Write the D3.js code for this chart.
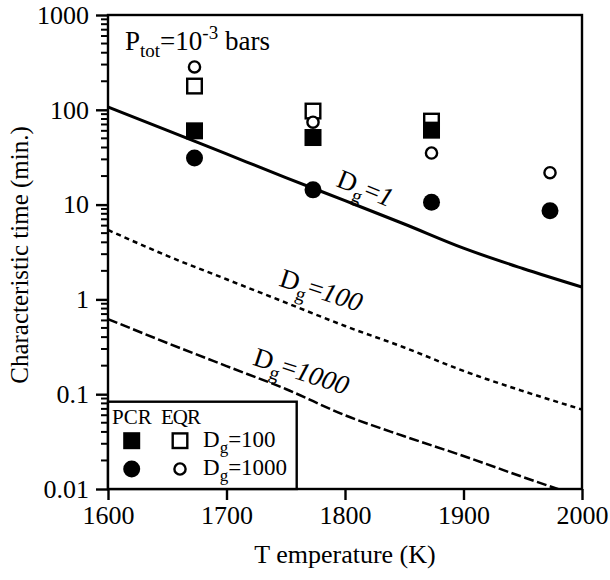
<!DOCTYPE html>
<html>
<head>
<meta charset="utf-8">
<script src="https://cdn.jsdelivr.net/npm/d3@7"></script>
<style>
  html, body { margin: 0; padding: 0; background: #fff; }
  svg { display: block; }
  svg text { font-family: "Liberation Serif", Tinos, "Times New Roman", Times, "Nimbus Roman", "DejaVu Serif", serif !important; fill: #000; }
</style>
</head>
<body>
<svg id="chart" width="610" height="580"></svg>
<script>
// Model curves: characteristic time (min.) vs temperature for three Dg values
const curveTemps = [1600, 1650, 1700, 1750, 1800, 1850, 1900, 1950, 2000];
const curveDg1    = [107, 60.6, 34.2, 19.3, 11.0, 6.24, 3.47, 2.12, 1.35];
const curveDg100  = [5.40, 2.88, 1.63, 0.925, 0.524, 0.311, 0.176, 0.108, 0.069];
const curveDg1000 = [0.62, 0.347, 0.198, 0.1135, 0.060, 0.036, 0.0223, 0.0134, 0.0082];

// Measured points (PCR = filled, EQR = open)
const pointTemps = [1673, 1773, 1873, 1973];
const pcrDg100  = [60, 51, 61, null];
const eqrDg100  = [178, 97, 76, null];
const pcrDg1000 = [31, 14.3, 10.6, 8.6];
const eqrDg1000 = [283, 74, 35, 21.7];

const xTicks = [1600, 1700, 1800, 1900, 2000];
const yTicks = [0.01, 0.1, 1, 10, 100, 1000];
const yTickLabels = ["0.01", "0.1", "1", "10", "100", "1000"];

const svg = d3.select("#chart");
const plotL = 108, plotR = 582, plotT = 15, plotB = 489;

const x = d3.scaleLinear().domain([1600, 2000]).range([plotL, plotR]);
const y = d3.scaleLog().domain([0.01, 1000]).range([plotB, plotT]);

// clip for curves
svg.append("clipPath").attr("id", "plotClip")
  .append("rect").attr("x", plotL).attr("y", plotT)
  .attr("width", plotR - plotL).attr("height", plotB - plotT);

// minor log ticks
const minorTicks = [];
for (let e = -2; e < 3; e++) {
  for (let m = 2; m <= 9; m++) minorTicks.push(m * Math.pow(10, e));
}

// y axis (left) with outward ticks
const yAxis = d3.axisLeft(y).tickValues(yTicks)
  .tickFormat((d, i) => yTickLabels[i]).tickSize(12).tickPadding(7);
const gy = svg.append("g").attr("transform", `translate(${plotL},0)`).call(yAxis);
gy.attr("font-family", null).attr("font-size", null);
gy.select(".domain").remove();
gy.selectAll(".tick line").attr("stroke", "#000").attr("stroke-width", 2.4);
gy.selectAll(".tick text").style("font-size", "26px").attr("fill", "#000");

svg.append("g").selectAll("line").data(minorTicks).join("line")
  .attr("x1", plotL - 7).attr("x2", plotL)
  .attr("y1", d => y(d)).attr("y2", d => y(d))
  .attr("stroke", "#000").attr("stroke-width", 2);

// x axis (bottom)
const xAxis = d3.axisBottom(x).tickValues(xTicks).tickFormat(d3.format("d"))
  .tickSize(11).tickPadding(6);
const gx = svg.append("g").attr("transform", `translate(0,${plotB})`).call(xAxis);
gx.attr("font-family", null).attr("font-size", null);
gx.select(".domain").remove();
gx.selectAll(".tick line").attr("stroke", "#000").attr("stroke-width", 2.4);
gx.selectAll(".tick text").style("font-size", "26px").attr("fill", "#000");

// frame
svg.append("rect").attr("x", plotL).attr("y", plotT)
  .attr("width", plotR - plotL).attr("height", plotB - plotT)
  .attr("fill", "none").attr("stroke", "#000").attr("stroke-width", 2.4);

// axis titles
svg.append("text").attr("x", (plotL + plotR) / 2).attr("y", 563)
  .attr("text-anchor", "middle").style("font-size", "26px")
  .text("T emperature (K)");
svg.append("text")
  .attr("transform", "translate(28,255) rotate(-90)")
  .attr("text-anchor", "middle").style("font-size", "25px")
  .text("Characteristic time (min.)");

// curves
const line = d3.line()
  .x((d, i) => x(curveTemps[i]))
  .y(d => y(d))
  .curve(d3.curveMonotoneX);
const curves = svg.append("g").attr("clip-path", "url(#plotClip)");
curves.append("path").datum(curveDg1).attr("d", line)
  .attr("fill", "none").attr("stroke", "#000").attr("stroke-width", 3);
curves.append("path").datum(curveDg100).attr("d", line)
  .attr("fill", "none").attr("stroke", "#000").attr("stroke-width", 2.5)
  .attr("stroke-dasharray", "5,4");
curves.append("path").datum(curveDg1000).attr("d", line)
  .attr("fill", "none").attr("stroke", "#000").attr("stroke-width", 2.5)
  .attr("stroke-dasharray", "10,3.5");

// curve labels
function dgLabel(cx, cy, angle, num, size) {
  const t = svg.append("text")
    .attr("transform", `translate(${cx},${cy}) rotate(${angle})`)
    .attr("text-anchor", "middle").attr("dy", "0.3em")
    .style("font-size", size + "px");
  t.append("tspan").text("D");
  t.append("tspan").attr("dy", size * 0.28).style("font-size", (size * 0.72) + "px").text("g");
  t.append("tspan").attr("dy", -size * 0.28).text("=");
  t.append("tspan").style("font-style", "italic").text(num);
}
dgLabel(365, 189, 22, "1", 27);
dgLabel(321, 291, 18, "100", 27);
dgLabel(301, 372, 18, "1000", 27);

// markers
const pts = svg.append("g");
const sq = 17, osq = 14.6;
function rows(vals) {
  return vals.map((v, i) => ({ t: pointTemps[i], v })).filter(d => d.v != null);
}
pts.selectAll(".eqrsq").data(rows(eqrDg100)).join("rect")
  .attr("x", d => x(d.t) - osq / 2).attr("y", d => y(d.v) - osq / 2)
  .attr("width", osq).attr("height", osq)
  .attr("fill", "#fff").attr("stroke", "#000").attr("stroke-width", 2.4);
pts.selectAll(".eqrci").data(rows(eqrDg1000)).join("circle")
  .attr("cx", d => x(d.t)).attr("cy", d => y(d.v)).attr("r", 5.6)
  .attr("fill", "#fff").attr("stroke", "#000").attr("stroke-width", 2.4);
pts.selectAll(".pcrsq").data(rows(pcrDg100)).join("rect")
  .attr("x", d => x(d.t) - sq / 2).attr("y", d => y(d.v) - sq / 2)
  .attr("width", sq).attr("height", sq).attr("fill", "#000");
pts.selectAll(".pcrci").data(rows(pcrDg1000)).join("circle")
  .attr("cx", d => x(d.t)).attr("cy", d => y(d.v)).attr("r", 8.5)
  .attr("fill", "#000");

// pressure annotation
const p = svg.append("text").attr("x", 125).attr("y", 50).style("font-size", "27px");
p.append("tspan").text("P");
p.append("tspan").attr("dy", 7).style("font-size", "19px").text("tot");
p.append("tspan").attr("dy", -7).text("=10");
p.append("tspan").attr("dy", -11).style("font-size", "19px").text("-3");
p.append("tspan").attr("dy", 11).text(" bars");

// legend
const lg = svg.append("g");
lg.append("rect").attr("x", plotL).attr("y", 401.7)
  .attr("width", 188.7).attr("height", plotB - 401.7)
  .attr("fill", "#fff").attr("stroke", "#000").attr("stroke-width", 2.4);
lg.append("text").attr("x", 112).attr("y", 424).style("font-size", "21px").text("PCR");
lg.append("text").attr("x", 161).attr("y", 424).style("font-size", "21px")
  .style("letter-spacing", "-1px").text("EQR");
lg.append("rect").attr("x", 131.7 - sq / 2).attr("y", 440.7 - sq / 2)
  .attr("width", sq).attr("height", sq).attr("fill", "#000");
lg.append("rect").attr("x", 180 - osq / 2).attr("y", 440.7 - osq / 2)
  .attr("width", osq).attr("height", osq)
  .attr("fill", "#fff").attr("stroke", "#000").attr("stroke-width", 2.4);
lg.append("circle").attr("cx", 131.7).attr("cy", 469).attr("r", 8.5).attr("fill", "#000");
lg.append("circle").attr("cx", 180).attr("cy", 469).attr("r", 5.6)
  .attr("fill", "#fff").attr("stroke", "#000").attr("stroke-width", 2.4);
function legendText(yb, num) {
  const t = lg.append("text").attr("x", 203).attr("y", yb).style("font-size", "23px");
  t.append("tspan").text("D");
  t.append("tspan").attr("dy", 6).style("font-size", "17px").text("g");
  t.append("tspan").attr("dy", -6).text("=" + num);
}
legendText(447, "100");
legendText(475, "1000");
</script>
</body>
</html>
